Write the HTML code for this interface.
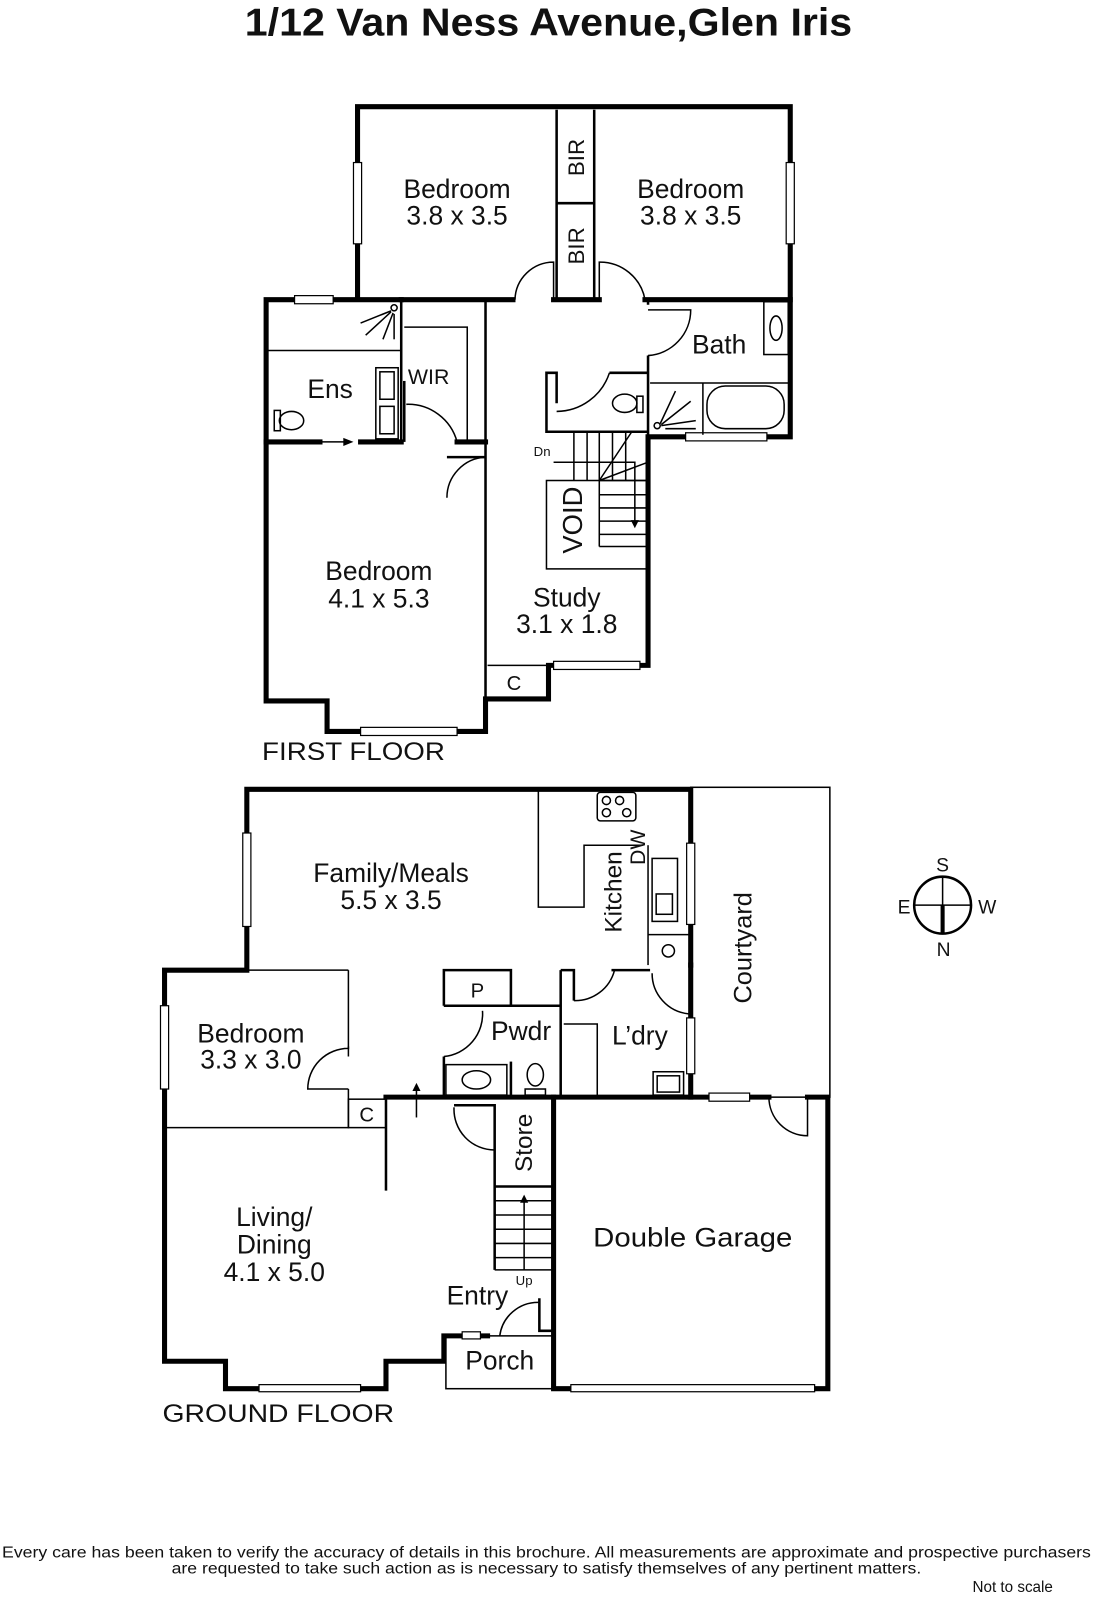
<!DOCTYPE html>
<html><head><meta charset="utf-8"><style>
html,body{margin:0;padding:0;background:#fff}
svg{display:block}
text{font-family:"Liberation Sans",sans-serif;fill:#111}
.w{stroke:#000;stroke-width:5;fill:none;stroke-linecap:square}
.t{stroke:#000;stroke-width:1.5;fill:none}
.m{stroke:#000;stroke-width:2.5;fill:none}
.win{fill:#fff;stroke:#000;stroke-width:1.2}
.r{font-size:26px;text-anchor:middle}
</style></head><body>
<svg width="1097" height="1600" viewBox="0 0 1080 1575" preserveAspectRatio="none" xmlns="http://www.w3.org/2000/svg">
<text x="540" y="35" font-size="38" font-weight="bold" text-anchor="middle" textLength="598" lengthAdjust="spacingAndGlyphs">1/12 Van Ness Avenue,Glen Iris</text>

<!-- FIRST FLOOR -->
<polyline class="w" points="352,295 352,105 778,105 778,430 638,430 638,655 540,655 540,688 478,688 478,720 322,720 322,690 262,690 262,295 395,295"/>
<line class="w" x1="395" y1="295" x2="505" y2="295"/>
<line class="w" x1="545" y1="295" x2="590" y2="295"/>
<line class="w" x1="635" y1="295" x2="778" y2="295"/>
<line class="m" x1="548" y1="108" x2="548" y2="295"/>
<line class="m" x1="585" y1="108" x2="585" y2="295"/>
<line class="m" x1="548" y1="200" x2="585" y2="200"/>
<text x="575" y="155" font-size="22" transform="rotate(-90 575 155)" text-anchor="middle">BIR</text>
<text x="575" y="242" font-size="22" transform="rotate(-90 575 242)" text-anchor="middle">BIR</text>
<path class="t" d="M545,295 L545,258 A38,38 0 0 0 507,295"/>
<path class="t" d="M590,295 L590,258 A45,45 0 0 1 635,295"/>
<!-- windows -->
<rect class="win" x="348" y="160" width="8" height="80"/>
<rect class="win" x="774" y="160" width="8" height="80"/>
<rect class="win" x="290" y="291" width="38" height="8"/>
<rect class="win" x="675" y="426" width="80" height="8"/>
<rect class="win" x="355" y="716" width="95" height="8"/>
<rect class="win" x="545" y="651" width="85" height="8"/>
<!-- ens / wir -->
<line class="m" x1="395" y1="295" x2="395" y2="435"/>
<line class="t" x1="264" y1="345" x2="395" y2="345"/>
<line class="m" x1="478" y1="295" x2="478" y2="688"/>
<line class="w" x1="262" y1="435" x2="315" y2="435"/>
<line class="w" x1="355" y1="435" x2="395" y2="435"/>
<line class="t" x1="315" y1="435" x2="345" y2="435"/>
<polygon points="338,431 348,435 338,439" fill="#000"/>
<line class="w" x1="450" y1="435" x2="478" y2="435"/>
<polyline class="t" points="398,322 460,322 460,435"/>
<line class="m" x1="398" y1="375" x2="398" y2="435"/>
<path class="t" d="M400,398 A50,50 0 0 1 450,435"/>
<rect class="t" x="370" y="362" width="22" height="70"/>
<rect class="t" x="374" y="366" width="14" height="27"/><rect class="t" x="374" y="400" width="14" height="27"/>
<ellipse class="t" cx="287" cy="414" rx="12" ry="9"/><rect class="t" x="270" y="404" width="6" height="20"/>
<g class="t"><circle cx="388" cy="303" r="3"/><line x1="385" y1="306" x2="355" y2="318"/><line x1="385" y1="307" x2="360" y2="330"/><line x1="387" y1="308" x2="377" y2="334"/><line x1="388" y1="309" x2="388" y2="334"/></g>
<path class="t" d="M478,450 A40,40 0 0 0 440,490"/><line class="m" x1="440" y1="450" x2="478" y2="450"/>
<!-- bath -->
<line class="m" x1="638" y1="295" x2="638" y2="300"/>
<line class="m" x1="638" y1="350" x2="638" y2="430"/>
<path class="t" d="M638,305 L680,305 A45,45 0 0 1 638,350"/>
<rect class="t" x="752" y="297" width="24" height="52"/><ellipse class="t" cx="764" cy="323" rx="6" ry="12"/>
<line class="t" x1="640" y1="377" x2="776" y2="377"/><line class="t" x1="692" y1="377" x2="692" y2="428"/>
<rect class="t" x="696" y="380" width="76" height="42" rx="18"/>
<g class="t"><circle cx="647" cy="419" r="3"/><line x1="650" y1="417" x2="665" y2="385"/><line x1="651" y1="418" x2="680" y2="395"/><line x1="651" y1="419" x2="685" y2="414"/><line x1="655" y1="422" x2="685" y2="422"/></g>
<text x="708" y="348" class="r">Bath</text>
<!-- toilet & stairs -->
<polyline class="m" points="548,397 548,367 538,367 538,425 638,425"/>
<line class="m" x1="600" y1="367" x2="638" y2="367"/>
<path class="t" d="M548,405 A55,55 0 0 0 600,367"/>
<ellipse class="t" cx="615" cy="397" rx="12" ry="9"/><rect class="t" x="627" y="390" width="6" height="16"/>
<g class="t">
<line x1="565" y1="425" x2="565" y2="473"/><line x1="578" y1="425" x2="578" y2="473"/><line x1="590" y1="425" x2="590" y2="473"/><line x1="603" y1="425" x2="603" y2="473"/><line x1="616" y1="425" x2="616" y2="473"/>
<line x1="590" y1="473" x2="638" y2="473"/><line x1="590" y1="487" x2="638" y2="487"/><line x1="590" y1="500" x2="638" y2="500"/><line x1="590" y1="513" x2="638" y2="513"/><line x1="590" y1="526" x2="638" y2="526"/>
<line x1="590" y1="473" x2="622" y2="425"/><line x1="590" y1="473" x2="638" y2="455"/>
<polyline points="545,455 625,455 625,515"/>
<rect x="538" y="473" width="100" height="87"/>
<line x1="590" y1="473" x2="590" y2="538"/><line x1="590" y1="538" x2="638" y2="538"/>
</g>
<polygon points="621,512 629,512 625,520" fill="#000"/>
<text x="542" y="449" font-size="13" text-anchor="end">Dn</text>
<text x="573" y="512" font-size="27" transform="rotate(-90 573 512)" text-anchor="middle">VOID</text>
<line class="t" x1="480" y1="655" x2="540" y2="655"/>
<text x="506" y="679" font-size="20" text-anchor="middle">C</text>
<text x="450" y="195" class="r">Bedroom</text><text x="450" y="221" class="r">3.8 x 3.5</text>
<text x="680" y="195" class="r">Bedroom</text><text x="680" y="221" class="r">3.8 x 3.5</text>
<text x="325" y="392" class="r">Ens</text>
<text x="422" y="378" font-size="21" text-anchor="middle">WIR</text>
<text x="373" y="571" class="r">Bedroom</text><text x="373" y="598" class="r">4.1 x 5.3</text>
<text x="558" y="597" class="r">Study</text><text x="558" y="623" class="r">3.1 x 1.8</text>
<text x="258" y="748" font-size="25" textLength="180" lengthAdjust="spacingAndGlyphs">FIRST FLOOR</text>

<!-- GROUND FLOOR -->
<polyline class="w" points="680,950 680,777 243,777 243,955 162,955 162,1340 222,1340 222,1367 380,1367 380,1340 437,1340 437,1315 480,1315"/>
<line class="w" x1="680" y1="950" x2="680" y2="1080"/>
<polyline class="w" points="757,1080 680,1080 380,1080"/>
<polyline class="w" points="795,1080 815,1080 815,1367 545,1367 545,1080"/>
<rect class="t" x="680" y="775" width="137" height="305"/>
<line class="m" x1="545" y1="1080" x2="545" y2="1310"/>
<polyline class="m" points="531,1278 531,1310 545,1310"/>
<rect class="t" x="439" y="1315" width="106" height="52"/>
<path class="t" d="M530,1282 A38,38 0 0 0 492,1315"/>
<rect class="win" x="455" y="1311" width="18" height="7"/>
<rect class="win" x="255" y="1363" width="100" height="7"/>
<rect class="win" x="562" y="1363" width="240" height="7"/>
<rect class="win" x="239" y="820" width="8" height="92"/>
<rect class="win" x="158" y="990" width="8" height="82"/>
<rect class="win" x="676" y="830" width="8" height="80"/>
<rect class="win" x="676" y="1002" width="8" height="55"/>
<rect class="win" x="698" y="1076" width="40" height="8"/>
<path class="t" d="M795,1080 L795,1118 A38,38 0 0 1 757,1080"/>
<!-- kitchen -->
<polyline class="t" points="530,777 530,893 575,893 575,832 633,832"/>
<rect class="t" x="588" y="780" width="38" height="28" rx="3"/>
<g class="t"><circle cx="597" cy="788" r="4"/><circle cx="610" cy="788" r="4"/><circle cx="597" cy="800" r="4"/><circle cx="617" cy="800" r="4"/></g>
<line class="t" x1="638" y1="832" x2="638" y2="950"/><line class="t" x1="638" y1="920" x2="678" y2="920"/>
<rect class="t" x="642" y="845" width="25" height="62"/><rect class="t" x="646" y="880" width="16" height="20"/>
<circle class="t" cx="658" cy="936" r="6"/>
<text x="612" y="878" font-size="24" transform="rotate(-90 612 878)" text-anchor="middle">Kitchen</text>
<text x="635" y="834" font-size="21" transform="rotate(-90 635 834)" text-anchor="middle">DW</text>
<!-- pwdr / ldry -->
<polyline class="m" points="437,990 437,955 503,955 503,990 437,990"/>
<line class="m" x1="437" y1="990" x2="552" y2="990"/>
<line class="m" x1="437" y1="1040" x2="437" y2="1080"/>
<line class="m" x1="503" y1="1045" x2="503" y2="1080"/>
<path class="t" d="M437,1040 A42,42 0 0 0 475,995"/>
<rect class="t" x="439" y="1048" width="60" height="30"/><ellipse class="t" cx="469" cy="1063" rx="14" ry="9"/>
<ellipse class="t" cx="527" cy="1058" rx="8" ry="11"/><rect class="t" x="517" y="1072" width="20" height="6"/>
<line class="m" x1="552" y1="955" x2="552" y2="1080"/>
<polyline class="m" points="565,985 565,955 552,955"/>
<line class="m" x1="602" y1="955" x2="640" y2="955"/>
<path class="t" d="M565,985 A40,40 0 0 0 605,955"/>
<path class="t" d="M642,958 A40,40 0 0 0 678,998"/>
<polyline class="t" points="555,1008 588,1008 588,1078"/>
<rect class="t" x="643" y="1055" width="30" height="23"/><rect class="t" x="647" y="1059" width="22" height="16"/>
<text x="470" y="982" font-size="20" text-anchor="middle">P</text>
<text x="513" y="1024" class="r">Pwdr</text>
<text x="630" y="1028" class="r">L’dry</text>
<!-- bedroom -->
<polyline class="t" points="162,1110 343,1110 343,1072"/>
<line class="t" x1="343" y1="955" x2="343" y2="1040"/>
<line class="t" x1="162" y1="955" x2="343" y2="955"/>
<path class="t" d="M343,1030 L343,1032 A40,40 0 0 0 303,1072 L343,1072"/>
<rect class="t" x="343" y="1082" width="37" height="28"/>
<text x="361" y="1104" font-size="20" text-anchor="middle">C</text>
<line class="m" x1="380" y1="1082" x2="380" y2="1172"/>
<line class="t" x1="410" y1="1100" x2="410" y2="1072"/>
<polygon points="406,1074 414,1074 410,1066" fill="#000"/>
<!-- store / stairs -->
<polyline class="m" points="447,1088 487,1088 487,1250"/>
<path class="t" d="M447,1090 A40,40 0 0 0 487,1132"/>
<line class="m" x1="487" y1="1168" x2="545" y2="1168"/>
<g class="t"><line x1="487" y1="1182" x2="545" y2="1182"/><line x1="487" y1="1196" x2="545" y2="1196"/><line x1="487" y1="1210" x2="545" y2="1210"/><line x1="487" y1="1224" x2="545" y2="1224"/><line x1="487" y1="1238" x2="545" y2="1238"/><line x1="487" y1="1250" x2="545" y2="1250"/>
<line x1="516" y1="1250" x2="516" y2="1182"/></g>
<polygon points="512,1184 520,1184 516,1176" fill="#000"/>
<text x="516" y="1265" font-size="13" text-anchor="middle">Up</text>
<text x="524" y="1125" font-size="24" transform="rotate(-90 524 1125)" text-anchor="middle">Store</text>
<text x="740" y="933" font-size="25" transform="rotate(-90 740 933)" text-anchor="middle">Courtyard</text>
<text x="385" y="868" class="r">Family/Meals</text><text x="385" y="895" class="r">5.5 x 3.5</text>
<text x="247" y="1026" class="r">Bedroom</text><text x="247" y="1052" class="r">3.3 x 3.0</text>
<text x="270" y="1207" class="r">Living/</text><text x="270" y="1234" class="r">Dining</text><text x="270" y="1261" class="r">4.1 x 5.0</text>
<text x="470" y="1284" class="r">Entry</text>
<text x="492" y="1348" class="r">Porch</text>
<text x="682" y="1227" class="r" textLength="196" lengthAdjust="spacingAndGlyphs">Double Garage</text>
<text x="160" y="1400" font-size="25" textLength="228" lengthAdjust="spacingAndGlyphs">GROUND FLOOR</text>
<!-- compass -->
<circle class="m" cx="928" cy="891" r="28"/>
<line class="t" x1="900" y1="891" x2="956" y2="891"/><line class="t" x1="928" y1="863" x2="928" y2="891"/>
<line x1="928" y1="891" x2="928" y2="919" stroke="#000" stroke-width="4"/>
<text x="928" y="858" font-size="19" text-anchor="middle">S</text>
<text x="890" y="899" font-size="19" text-anchor="middle">E</text>
<text x="972" y="899" font-size="19" text-anchor="middle">W</text>
<text x="929" y="941" font-size="19" text-anchor="middle">N</text>
<!-- footer -->
<text x="538" y="1533" font-size="15.5" text-anchor="middle" textLength="1072" lengthAdjust="spacingAndGlyphs">Every care has been taken to verify the accuracy of details in this brochure.  All measurements are approximate and prospective purchasers</text>
<text x="538" y="1549" font-size="15.5" text-anchor="middle" textLength="738" lengthAdjust="spacingAndGlyphs">are requested to take such action as is necessary to satisfy themselves of any pertinent matters.</text>
<text x="997" y="1567" font-size="15" text-anchor="middle">Not to scale</text>
</svg>
</body></html>
